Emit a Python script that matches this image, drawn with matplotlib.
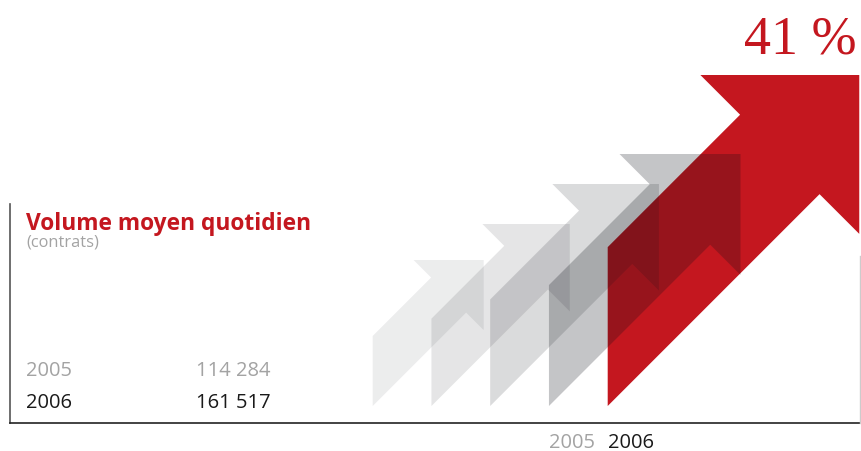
import matplotlib.pyplot as plt
from matplotlib.patches import Polygon

# données
hauteurs_fleches = [146, 182, 222, 252, 331]   # hauteur de chaque flèche (indice)
annees = ['2005', '2006']
volumes = ['114 284', '161 517']
hausse = '41 %'
titre = 'Volume moyen quotidien'
unite = '(contrats)'

rouge = '#c4171f'
gris_txt = '#a3a3a3'
noir_txt = '#1a1a1a'
alphas_gris = [0.075, 0.105, 0.15, 0.24]  # flèches grises = noir transparent

plt.rcParams['font.family'] = ['Open Sans', 'DejaVu Sans']

fig = plt.figure(figsize=(8.61, 4.52), dpi=100)
ax = fig.add_axes([0, 0, 1, 1])
ax.set_xlim(0, 861)
ax.set_ylim(-45, 407)   # ligne de base des flèches en y = 0
ax.axis('off')


def fleche(x0, h):
    # flèche à 45°, largeur proportionnelle à la hauteur
    w = 0.48 * h
    xt = x0 + h - w / 2
    return [(x0, 0), (x0, w), (xt - 0.75 * w, h - 0.25 * w), (xt - w, h),
            (xt, h), (xt, h - w), (xt - 0.25 * w, h - 0.75 * w)]


x_debut = 372.7
pas = 58.75
xs = [x_debut + i * pas for i in range(len(hauteurs_fleches))]

# flèche rouge (2006) en dessous, les grises par-dessus en transparence
ax.add_patch(Polygon(fleche(xs[-1], hauteurs_fleches[-1]), closed=True,
                     facecolor=rouge, edgecolor='none', zorder=1))
for x0, h, a in zip(xs[:-1], hauteurs_fleches[:-1], alphas_gris):
    ax.add_patch(Polygon(fleche(x0, h), closed=True, facecolor='#0b0e16',
                         alpha=a, edgecolor='none', zorder=2))

# cadre
ax.plot([10, 10], [202, -17], color='#555555', lw=1.2, zorder=3)
ax.plot([10, 860], [-17, -17], color='#222222', lw=1.2, zorder=3)
ax.plot([860, 860], [150, -17], color='#cccccc', lw=1.0, zorder=3)

# textes
ax.text(857, 353, hausse, color=rouge, fontsize=39, family='Liberation Serif',
        ha='right', va='baseline')
ax.text(26, 177, titre, color=rouge, fontsize=16.4, fontweight='bold',
        va='baseline')
ax.text(26, 160, unite, color=gris_txt, fontsize=11.8, va='baseline')

couleurs = [gris_txt, noir_txt]
lignes_y = [31, -1]
for an, vol, c, y in zip(annees, volumes, couleurs, lignes_y):
    ax.text(26, y, an, color=c, fontsize=14.5, va='baseline')
    ax.text(196, y, vol, color=c, fontsize=14.5, va='baseline')

# années sous les flèches 2005 et 2006
for an, c, x0 in zip(annees, couleurs, xs[-2:]):
    ax.text(x0, -41, an, color=c, fontsize=14.5, va='baseline')

fig.savefig('out.png', dpi=100)
